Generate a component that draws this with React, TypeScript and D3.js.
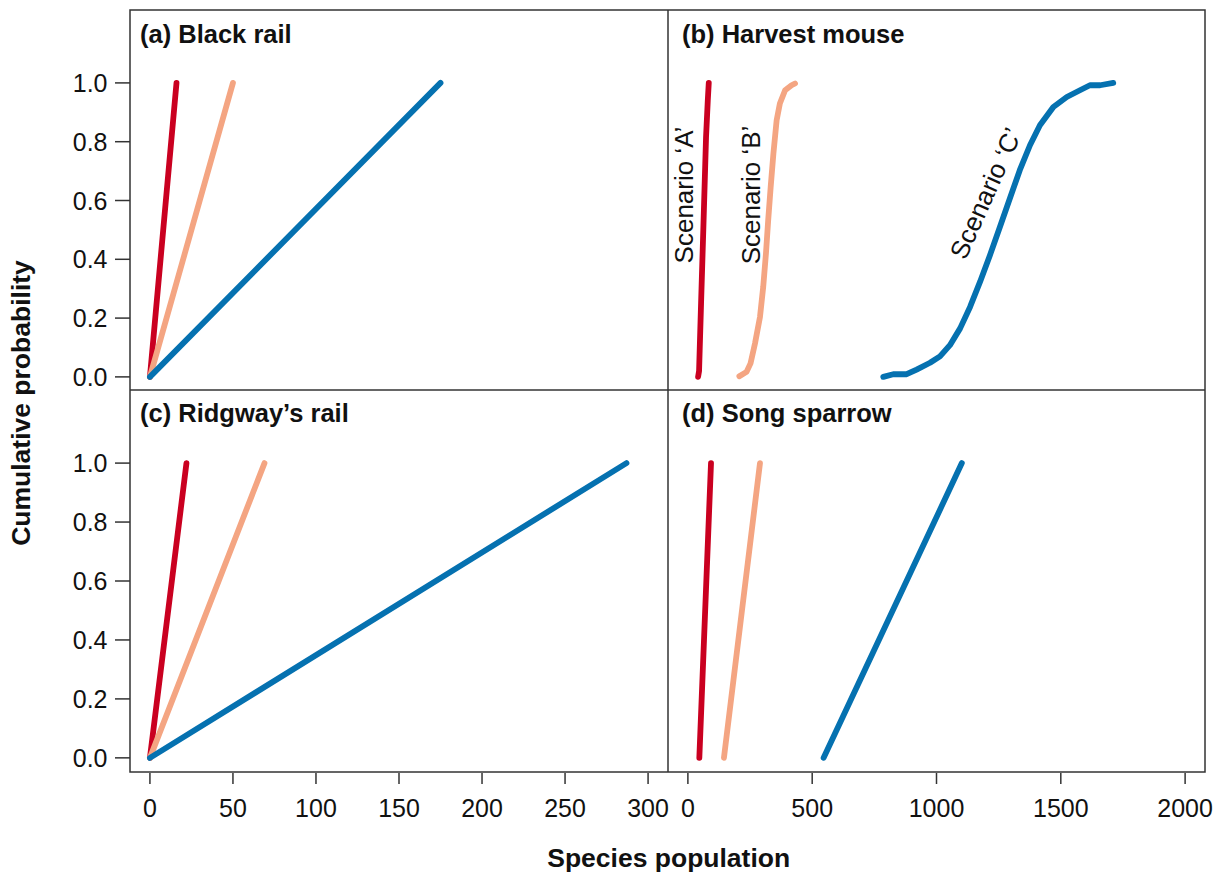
import React from "react";
import * as d3 from "d3";

type Pt = [number, number];

// ---- Data (population, cumulative probability) ----
const blackRailA: Pt[] = [[0, 0], [16, 1]];
const blackRailB: Pt[] = [[0, 0], [50, 1]];
const blackRailC: Pt[] = [[0, 0], [175, 1]];

const ridgwayA: Pt[] = [[0, 0], [22, 1]];
const ridgwayB: Pt[] = [[0, 0], [69, 1]];
const ridgwayC: Pt[] = [[0, 0], [287, 1]];

const harvestA: Pt[] = [[41, 0], [45, 0.02], [53, 0.25], [62, 0.5], [73, 0.815], [80, 0.94], [84, 1]];
const harvestB: Pt[] = [
  [207, 0.002], [236, 0.017], [252, 0.046], [270, 0.114], [290, 0.204], [303, 0.306],
  [314, 0.42], [323, 0.533], [333, 0.646], [344, 0.76], [357, 0.873], [370, 0.93],
  [391, 0.975], [417, 0.992], [431, 0.998],
];
const harvestC: Pt[] = [
  [786, 0], [826, 0.009], [880, 0.009], [920, 0.025], [974, 0.048], [1014, 0.07],
  [1054, 0.108], [1095, 0.165], [1135, 0.238], [1175, 0.323], [1215, 0.414],
  [1255, 0.51], [1295, 0.607], [1335, 0.703], [1376, 0.788], [1416, 0.856],
  [1470, 0.918], [1524, 0.952], [1577, 0.975], [1617, 0.992], [1658, 0.992], [1711, 1.0],
];

const sparrowA: Pt[] = [[46, 0], [93, 1]];
const sparrowB: Pt[] = [[145, 0], [290, 1]];
const sparrowC: Pt[] = [[546, 0], [1102, 1]];

const yTicks = [0, 0.2, 0.4, 0.6, 0.8, 1.0];
const xTicksLeft = [0, 50, 100, 150, 200, 250, 300];
const xTicksRight = [0, 500, 1000, 1500, 2000];

const panelTitles = ["(a) Black rail", "(b) Harvest mouse", "(c) Ridgway\u2019s rail", "(d) Song sparrow"];
const scenarioLabels = ["Scenario \u2018A\u2019", "Scenario \u2018B\u2019", "Scenario \u2018C\u2019"];

const colA = "#ca0020";
const colB = "#f4a582";
const colC = "#0571b0";

const FONT = "'Liberation Sans', Arial, Helvetica, sans-serif";

export default function App() {
  const L = 130, M = 668, R = 1205, T = 10, MID = 390, B = 772;
  const xLeft = d3.scaleLinear().domain([-12, 312]).range([L, M]);
  const xRight = d3.scaleLinear().domain([-80, 2080]).range([M, R]);
  const yTop = d3.scaleLinear().domain([-0.048, 1.248]).range([MID + 1, T]);
  const yBot = d3.scaleLinear().domain([-0.048, 1.248]).range([B, MID]);

  const panels = [
    { x: xLeft, y: yTop, series: [blackRailA, blackRailB, blackRailC], title: panelTitles[0], tx: 140, ty: 43 },
    { x: xRight, y: yTop, series: [harvestA, harvestB, harvestC], title: panelTitles[1], tx: 682, ty: 43 },
    { x: xLeft, y: yBot, series: [ridgwayA, ridgwayB, ridgwayC], title: panelTitles[2], tx: 140, ty: 422 },
    { x: xRight, y: yBot, series: [sparrowA, sparrowB, sparrowC], title: panelTitles[3], tx: 682, ty: 422 },
  ];
  const cols = [colA, colB, colC];

  return (
    <svg width={1225} height={874} style={{ position: "absolute", left: 0, top: 0, background: "#fff" }} fontFamily={FONT}>
      <rect x={0} y={0} width={1225} height={874} fill="#fff" />
      {panels.map((p, i) => {
        const line = d3.line<Pt>().x((d) => p.x(d[0])).y((d) => p.y(d[1]));
        return (
          <g key={i}>
            {p.series.map((s, j) => (
              <path key={j} d={line(s) || ""} fill="none" stroke={cols[j]} strokeWidth={5.8}
                strokeLinecap="round" strokeLinejoin="round" />
            ))}
            <text x={p.tx} y={p.ty} fontSize={25.5} fontWeight="bold" fill="#111">{p.title}</text>
          </g>
        );
      })}

      {/* scenario labels in panel b */}
      <text transform={`translate(693,195) rotate(-90)`} textAnchor="middle" fontSize={26} fill="#111">{scenarioLabels[0]}</text>
      <text transform={`translate(760,195) rotate(-90)`} textAnchor="middle" fontSize={26} fill="#111">{scenarioLabels[1]}</text>
      <text transform={`translate(994,197) rotate(-66)`} textAnchor="middle" fontSize={26} fill="#111">{scenarioLabels[2]}</text>

      {/* frame */}
      <rect x={L} y={T} width={R - L} height={B - T} fill="none" stroke="#333" strokeWidth={1.5} />
      <line x1={M} x2={M} y1={T} y2={B} stroke="#333" strokeWidth={1.5} />
      <line x1={L} x2={R} y1={MID} y2={MID} stroke="#333" strokeWidth={1.5} />

      {/* y axes */}
      {[yTop, yBot].map((ys, k) => (
        <g key={k}>
          {yTicks.map((t) => (
            <g key={t}>
              <line x1={115} x2={L} y1={ys(t)} y2={ys(t)} stroke="#333" strokeWidth={1.5} />
              <text x={107.5} y={ys(t)} dy="0.36em" textAnchor="end" fontSize={25} fill="#111">{t.toFixed(1)}</text>
            </g>
          ))}
        </g>
      ))}

      {/* x axes */}
      {xTicksLeft.map((t) => (
        <g key={"l" + t}>
          <line x1={xLeft(t)} x2={xLeft(t)} y1={B + 1} y2={B + 12} stroke="#333" strokeWidth={1.5} />
          <text x={xLeft(t)} y={817} textAnchor="middle" fontSize={25} fill="#111">{t}</text>
        </g>
      ))}
      {xTicksRight.map((t) => (
        <g key={"r" + t}>
          <line x1={xRight(t)} x2={xRight(t)} y1={B + 1} y2={B + 12} stroke="#333" strokeWidth={1.5} />
          <text x={xRight(t)} y={817} textAnchor="middle" fontSize={25} fill="#111">{t}</text>
        </g>
      ))}

      {/* axis titles */}
      <text x={668.7} y={866.5} textAnchor="middle" fontSize={26.5} fontWeight="bold" fill="#111">Species population</text>
      <text transform={`translate(30,403) rotate(-90)`} textAnchor="middle" fontSize={26.5} fontWeight="bold" fill="#111">Cumulative probability</text>
    </svg>
  );
}
